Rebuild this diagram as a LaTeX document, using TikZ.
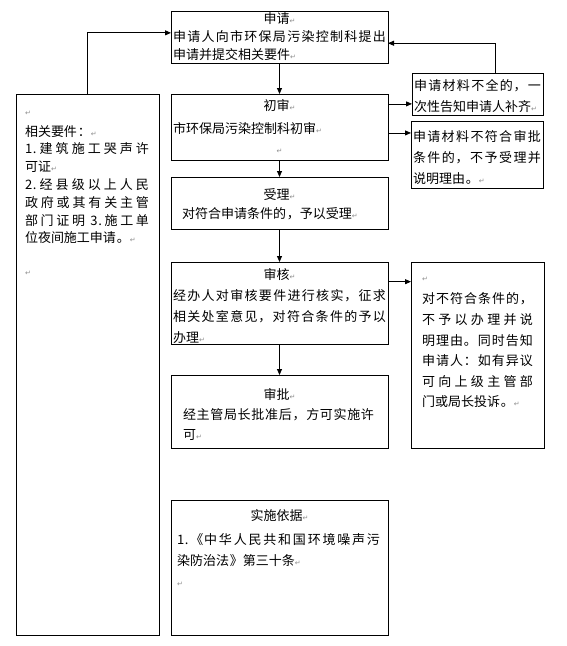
\documentclass[tikz,border=0pt]{standalone}
\usepackage{fontspec}
\setmainfont{Noto Sans CJK SC}[LetterSpace=6]
\newfontfamily\retfont{DejaVu Sans}
\usetikzlibrary{arrows.meta, calc}
\XeTeXlinebreaklocale "zh"
\XeTeXlinebreakskip=0pt plus 3pt
% paragraph mark as shown in the source document
\newcommand{\ret}{{\retfont\fontsize{7pt}{7pt}\selectfont\textcolor{black!45}{↵}}}
% width, height, line skip, top gap, text
\newcommand{\boxtext}[5]{\parbox[t][#2pt][t]{\dimexpr#1pt-4pt\relax}{%
  \fontsize{13pt}{#3pt}\selectfont\parindent=0pt\vspace*{#4pt}#5}}

\begin{document}
\begin{tikzpicture}[x=1pt, y=-1pt,
    flow/.style={draw, line width=1pt, anchor=north west, inner xsep=2pt,
                 inner ysep=0pt, outer sep=0pt},
    arr/.style={-{Triangle[length=6pt, width=5pt]}, line width=0.8pt},
]
\useasboundingbox (0,0) rectangle (567,646);

% main column
\node[flow] (apply) at (171,11) {\boxtext{217}{52}{18}{2}{%
  {\centering 申请\ret\par}
  申请人向市环保局污染控制科提出\linebreak 申请并提交相关要件\ret}};
\node[flow] (first) at (171,94) {\boxtext{217}{66}{20}{5}{%
  {\centering 初审\ret\par}\vspace{3pt}
  市环保局污染控制科初审\ret\par
  {\centering\ret\par}}};
\node[flow] (accept) at (171,177) {\boxtext{217}{52}{19}{12}{%
  {\centering 受理\ret\par}
  \leftskip=9pt 对符合申请条件的，予以受理\ret}};
\node[flow] (check) at (171,262) {\boxtext{217}{82}{21}{6}{%
  {\centering 审核\ret\par}
  经办人对审核要件进行核实，征求\linebreak 相关处室意见，对符合条件的予以\linebreak 办理\ret}};
\node[flow] (approve) at (171,375) {\boxtext{217}{73}{20}{13}{%
  {\centering 审批\ret\par}
  \leftskip=10pt \rightskip=12pt 经主管局长批准后，方可实施许\linebreak 可\ret}};
\node[flow] (basis) at (171,500) {\boxtext{217}{135}{21}{9}{%
  {\centering 实施依据\ret\par}\vspace{3pt}
  \leftskip=4pt \rightskip=6pt 1.《中华人民共和国环境噪声污\linebreak 染防治法》第三十条\ret\par
  \ret}};

% side notes
\node[flow] (lack) at (412,73) {\boxtext{131}{42}{21}{6}{%
  申请材料不全的，一\linebreak 次性告知申请人补齐\ret}};
\node[flow] (unfit) at (411,121) {\boxtext{132}{67}{21}{9}{%
  申请材料不符合审批\linebreak 条件的，不予受理并\linebreak 说明理由。\ret}};
\node[flow] (reject) at (411,262) {\boxtext{133}{186}{20.6}{15}{%
  \leftskip=9pt \rightskip=9pt \ret\par\vspace{2pt}
  对不符合条件的，\linebreak 不予以办理并说\linebreak 明理由。同时告知\linebreak
  申请人：如有异议\linebreak 可向上级主管部\linebreak 门或局长投诉。\ret}};

% requirements
\node[flow] (req) at (16,94) {\boxtext{143}{541}{17.8}{17}{%
  \leftskip=7pt \rightskip=8pt \ret\par\vspace{3pt}
  相关要件：\ret\par
  1.建筑施工哭声许\linebreak 可证\ret\par
  2.经县级以上人民\linebreak 政府或其有关主管\linebreak 部门证明 3.施工单\linebreak 位夜间施工申请。\ret\par
  \vspace{15pt}\ret}};

\draw[arr] (req.north) |- ($(apply.north west)!0.42!(apply.south west)$);
\draw[arr] ($(lack.north west)!0.64!(lack.north east)$) |- ($(apply.north east)!0.62!(apply.south east)$);
\draw[arr] (apply.south) -- (first.north);
\coordinate (f1) at ($(first.north east)!0.15!(first.south east)$);
\coordinate (f2) at ($(first.north east)!0.59!(first.south east)$);
\draw[arr] (f1) -- (f1 -| lack.west);
\draw[arr] (f2) -- (f2 -| unfit.west);
\draw[arr] (first.south) -- (accept.north);
\draw[arr] (accept.south) -- (check.north);
\coordinate (c1) at ($(check.north east)!0.24!(check.south east)$);
\draw[arr] (c1) -- (c1 -| reject.west);
\draw[arr] (check.south) -- (approve.north);

\end{tikzpicture}
\end{document}
